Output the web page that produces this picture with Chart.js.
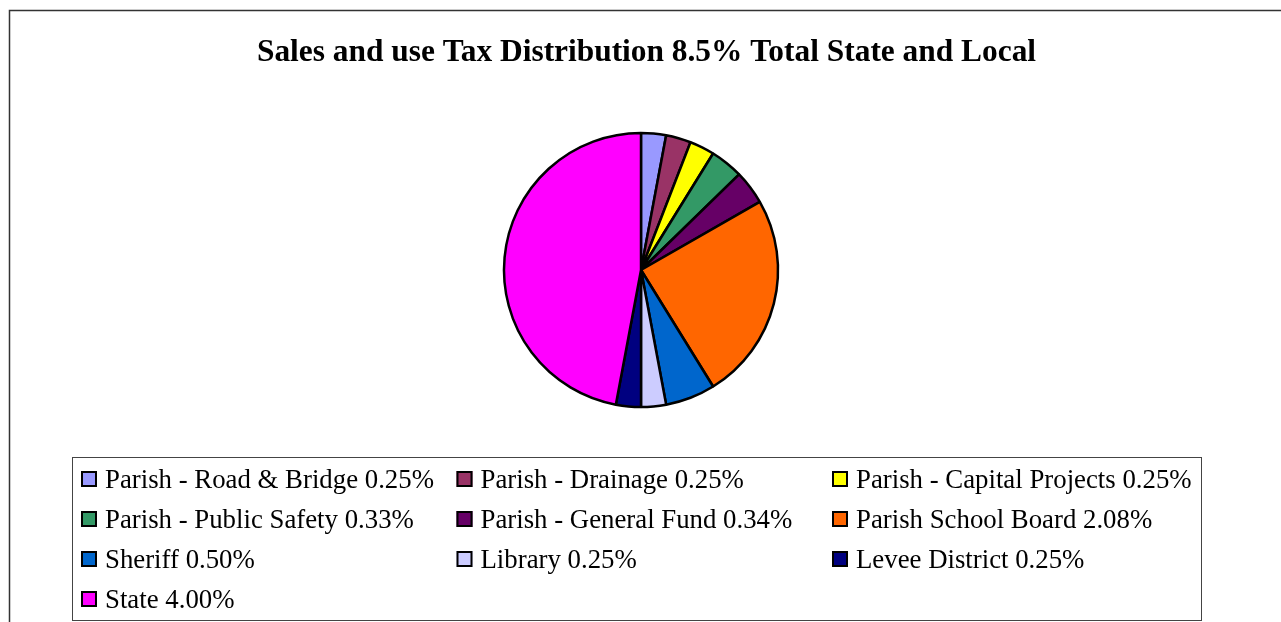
<!DOCTYPE html>
<html>
<head>
<meta charset="utf-8">
<script src="https://cdn.jsdelivr.net/npm/chart.js@4/dist/chart.umd.min.js"></script>
<style>
  html, body { margin: 0; padding: 0; background: #fff; }
  #wrap { position: relative; width: 1281px; height: 622px; }
</style>
</head>
<body>
<div id="wrap"><canvas id="c" width="1281" height="622"></canvas></div>
<script>
const titleText = 'Sales and use Tax Distribution 8.5% Total State and Local';
const categories = [
  'Parish - Road & Bridge', 'Parish - Drainage', 'Parish - Capital Projects',
  'Parish - Public Safety', 'Parish - General Fund', 'Parish School Board',
  'Sheriff', 'Library', 'Levee District', 'State'
];
const rates = [0.25, 0.25, 0.25, 0.33, 0.34, 2.08, 0.50, 0.25, 0.25, 4.00];
const colors = ['#9999FF', '#993366', '#FFFF00', '#339966', '#660066', '#FF6600',
                '#0066CC', '#CCCCFF', '#000080', '#FF00FF'];

const serif = '"Liberation Serif", "Times New Roman", Times, serif';

const decor = {
  id: 'decor',
  beforeDraw(chart) {
    const ctx = chart.ctx;
    ctx.save();
    ctx.fillStyle = '#fff';
    ctx.fillRect(0, 0, chart.width, chart.height);
    // outer frame
    ctx.strokeStyle = '#333';
    ctx.lineWidth = 1.5;
    ctx.beginPath();
    ctx.moveTo(9.5, 640);
    ctx.lineTo(9.5, 10.5);
    ctx.lineTo(1300, 10.5);
    ctx.stroke();
    // title
    ctx.fillStyle = '#000';
    ctx.font = 'bold 31.4px ' + serif;
    ctx.textAlign = 'center';
    ctx.textBaseline = 'alphabetic';
    ctx.fillText(titleText, 646.5, 61);
    ctx.restore();
  },
  afterDraw(chart) {
    const ctx = chart.ctx;
    const labels = chart.data.labels;
    const ds = chart.data.datasets[0];
    ctx.save();
    // legend box
    ctx.strokeStyle = '#444';
    ctx.lineWidth = 1;
    ctx.strokeRect(72.5, 457.5, 1129, 163);
    ctx.font = '26.8px ' + serif;
    ctx.textAlign = 'left';
    ctx.textBaseline = 'alphabetic';
    const colX = [81, 456.5, 832];
    for (let i = 0; i < labels.length; i++) {
      const col = i % 3, row = Math.floor(i / 3);
      const x = colX[col];
      const y = 471 + row * 40;
      ctx.fillStyle = ds.backgroundColor[i];
      ctx.fillRect(x, y, 16, 16);
      ctx.strokeStyle = '#000';
      ctx.lineWidth = 2;
      ctx.strokeRect(x + 1, y + 1, 14, 14);
      ctx.fillStyle = '#000';
      ctx.fillText(labels[i] + ' ' + ds.data[i].toFixed(2) + '%', x + 24, y + 17);
    }
    ctx.restore();
  }
};

new Chart(document.getElementById('c'), {
  type: 'pie',
  data: {
    labels: categories,
    datasets: [{
      data: rates,
      backgroundColor: colors,
      borderColor: '#000',
      borderWidth: 2.5
    }]
  },
  options: {
    responsive: false,
    animation: false,
    radius: 137,
    layout: { padding: { left: 1, right: 0, top: 132, bottom: 214 } },
    plugins: {
      legend: { display: false },
      title: { display: false },
      tooltip: { enabled: false }
    }
  },
  plugins: [decor]
});
</script>
</body>
</html>
